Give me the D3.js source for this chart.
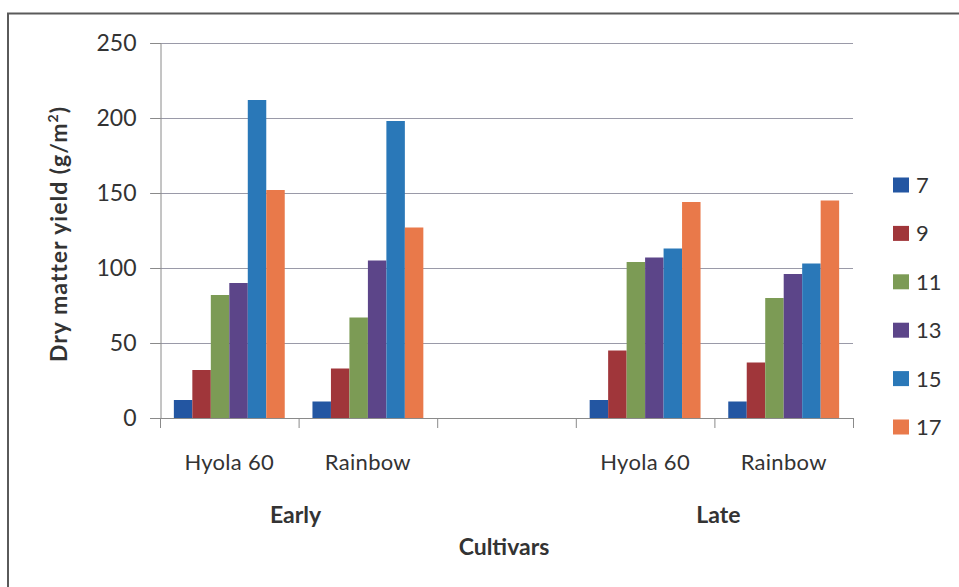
<!DOCTYPE html>
<html>
<head>
<meta charset="utf-8">
<script src="https://cdn.jsdelivr.net/npm/d3@7/dist/d3.min.js"></script>
<style>
  html, body { margin: 0; padding: 0; background: #fff; }
  svg { display: block; }
  text { font-family: Lato, "Open Sans", sans-serif; fill: #333; }
</style>
</head>
<body>
<svg id="chart" width="959" height="587"></svg>
<script>
// ---- data ----
const categories = ["Hyola 60", "Rainbow", "", "Hyola 60", "Rainbow"];
const groups = ["Early", "Late"];
const seriesNames = ["7", "9", "11", "13", "15", "17"];
const seriesColors = ["#2356a2", "#a0363a", "#7c9b55", "#5c4589", "#2a78b8", "#e9794a"];
// values per series for categories: Early Hyola 60, Early Rainbow, (gap), Late Hyola 60, Late Rainbow
const s7  = [12, 11, null, 12, 11];
const s9  = [32, 33, null, 45, 37];
const s11 = [82, 67, null, 104, 80];
const s13 = [90, 105, null, 107, 96];
const s15 = [212, 198, null, 113, 103];
const s17 = [152, 127, null, 144, 145];
const seriesValues = [s7, s9, s11, s13, s15, s17];
const yTicks = [0, 50, 100, 150, 200, 250];

// ---- layout ----
const svg = d3.select("#chart");
const pLeft = 160, pRight = 853, pTop = 43, pBottom = 418;

// outer border
svg.append("rect").attr("x", 8).attr("y", 13.5).attr("width", 980).attr("height", 620)
  .attr("fill", "none").attr("stroke", "#5a5a5a").attr("stroke-width", 2);

const x0 = d3.scaleBand().domain(d3.range(categories.length)).range([pLeft, pRight]).padding(0);
const x1 = d3.scaleBand().domain(seriesNames).range([0, x0.bandwidth()]).paddingInner(0).paddingOuter(0.75);
const y = d3.scaleLinear().domain([0, 250]).range([pBottom, pTop]);

// gridlines
svg.append("g").selectAll("line").data(yTicks.filter(d => d > 0)).join("line")
  .attr("x1", pLeft - 10).attr("x2", pRight)
  .attr("y1", d => y(d) + 0.5).attr("y2", d => y(d) + 0.5)
  .attr("stroke", "#9a9aa8").attr("stroke-width", 1);

// bars
const gBars = svg.append("g");
seriesValues.forEach((vals, si) => {
  gBars.append("g").selectAll("rect")
    .data(vals.map((v, ci) => ({v, ci})).filter(d => d.v !== null))
    .join("rect")
    .attr("x", d => x0(d.ci) + x1(seriesNames[si]))
    .attr("width", x1.bandwidth())
    .attr("y", d => y(d.v))
    .attr("height", d => y(0) - y(d.v))
    .attr("fill", seriesColors[si]);
});

// y axis
const yAxis = d3.axisLeft(y).tickValues(yTicks).tickSize(10).tickPadding(14);
const gy = svg.append("g").attr("transform", `translate(${pLeft + 0.5},0)`).call(yAxis);
gy.select(".domain").attr("stroke", "#8a8a8a");
gy.selectAll(".tick line").attr("stroke", "#8a8a8a");
gy.selectAll(".tick text").attr("font-size", 23).attr("fill", "#333")
  .style("font-family", "Lato, 'Open Sans', sans-serif");

// x axis baseline & ticks at boundaries
svg.append("line").attr("x1", pLeft - 10).attr("x2", pRight).attr("y1", pBottom + 0.5).attr("y2", pBottom + 0.5)
  .attr("stroke", "#8a8a8a");
const boundaries = d3.range(categories.length + 1).map(i => i < categories.length ? x0(i) : x0(i - 1) + x0.bandwidth());
svg.append("g").selectAll("line").data(boundaries).join("line")
  .attr("x1", d => d + 0.5).attr("x2", d => d + 0.5)
  .attr("y1", pBottom).attr("y2", pBottom + 10)
  .attr("stroke", "#8a8a8a");

// category labels
svg.append("g").selectAll("text").data(categories).join("text")
  .attr("x", (d, i) => x0(i) + x0.bandwidth() / 2)
  .attr("y", 470)
  .attr("text-anchor", "middle")
  .attr("font-size", 22)
  .attr("letter-spacing", 0.3)
  .text(d => d);

// group labels
const groupCenters = [(x0(0) + x0(1) + x0.bandwidth()) / 2 - 3, (x0(3) + x0(4) + x0.bandwidth()) / 2 + 4];
svg.append("g").selectAll("text").data(groups).join("text")
  .attr("x", (d, i) => groupCenters[i])
  .attr("y", 523)
  .attr("text-anchor", "middle")
  .attr("font-size", 23)
  .attr("font-weight", "bold")
  .text(d => d);

// axis titles
svg.append("text").attr("x", 504).attr("y", 555).attr("text-anchor", "middle")
  .attr("font-size", 23).attr("font-weight", "bold").text("Cultivars");

const yt = svg.append("text").attr("transform", "translate(67,234) rotate(-90)")
  .attr("text-anchor", "middle").attr("font-size", 23).attr("font-weight", "bold")
  .attr("letter-spacing", 1);
yt.append("tspan").text("Dry matter yield (g/m");
yt.append("tspan").attr("font-size", 14).attr("dy", -9).text("2");
yt.append("tspan").attr("dy", 9).text(")");

// legend
const leg = svg.append("g");
seriesNames.forEach((n, i) => {
  const cy = 185 + i * 48.4;
  leg.append("rect").attr("x", 893).attr("y", cy - 7.5).attr("width", 16).attr("height", 15)
    .attr("fill", seriesColors[i]);
  leg.append("text").attr("x", 916).attr("y", cy + 8).attr("font-size", 22).text(n);
});
</script>
</body>
</html>
